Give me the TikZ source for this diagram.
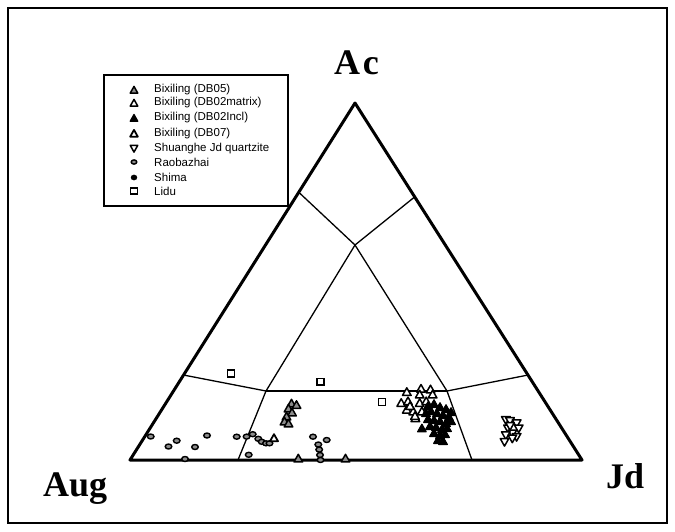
\documentclass[tikz,border=0pt]{standalone}
\usepackage{fontspec}
\setmainfont{Liberation Serif}
\newfontfamily\legfont{Liberation Sans}
\usetikzlibrary{calc}
\begin{document}
\begin{tikzpicture}[x=1pt,y=-1pt,
  frame/.style={line width=2pt},
  side/.style={line width=3pt, line cap=round, line join=round},
  field/.style={line width=1.3pt},
  db05/.style={draw=black, fill=black!45, line width=1.5pt, line join=round},
  db02m/.style={draw=black, fill=white, line width=1.5pt, line join=round},
  db02i/.style={draw=black, fill=black, line width=1.2pt, line join=round},
  db07/.style={draw=black, fill=white, line width=1.8pt, line join=round},
  shg/.style={draw=black, fill=white, line width=1.5pt, line join=round},
  rao/.style={draw=black, fill=black!45, line width=1.4pt},
  shima/.style={draw=black, fill=black},
  lidu/.style={draw=black, fill=white, line width=1.5pt},
  vlabel/.style={font=\fontsize{36}{36}\selectfont\bfseries, inner sep=0pt},
  legtext/.style={font=\legfont\fontsize{11.5}{12}\selectfont, anchor=west, inner sep=0pt}
]
\useasboundingbox (0,0) rectangle (675,531);
\fill[white] (0,0) rectangle (675,531);
\draw[frame] (8,8) rectangle (667,523);

% vertices
\coordinate (Ac) at (355,103);
\coordinate (Aug) at (130,460);
\coordinate (Jd) at (582,460);
% field boundaries
\coordinate (P1) at ($(Aug)!0.75!(Ac)$);
\coordinate (Q1) at ($(Jd)!0.737!(Ac)$);
\coordinate (C) at (355,245);
\coordinate (L) at (266,391);
\coordinate (R) at (447,391);
\coordinate (P2) at ($(Aug)!0.238!(Ac)$);
\coordinate (Q2) at ($(Jd)!0.238!(Ac)$);
\coordinate (B1) at (238,460);
\coordinate (B2) at (472,460);

\draw[field] (P1) -- (C) -- (Q1);
\draw[field] (L) -- (C) -- (R);
\draw[field] (L) -- (R);
\draw[field] (P2) -- (L) -- (B1);
\draw[field] (Q2) -- (R) -- (B2);
\draw[side] (Aug) -- (Jd) -- (Ac) -- cycle;

\node[vlabel, anchor=base] (lAc) at (356.5,74) {A\kern3pt c};
\node[vlabel, anchor=base west] (lAug) at (43,496) {Aug};
\node[vlabel, anchor=base west] (lJd) at (606,488) {Jd};

% Raobazhai
\foreach \x/\y in {150.7/436.5,176.7/440.7,168.5/446.5,195/447,207/435.5,185/459,
  236.7/436.7,246.6/436.6,252.7/434.2,258.3/438.8,261.7/441.8,266/443.3,269.5/443.3,
  248.7/454.8,313/436.7,326.7/440,318.3/444.5,319.2/449.6,320/455,320.5/460}
  \draw[rao] (\x,\y) ellipse [x radius=3.3pt, y radius=2.5pt];

% Lidu
\foreach \x/\y in {231/373.5,320.7/381.7,382/402}
  \draw[lidu] (\x,\y) ++(-3.5,-3.3) rectangle ++(7,6.6);

% DB05
\foreach \x/\y in {291.5/403.5,296.5/405,288.5/408.5,292/412.5,286.5/416.5,284.5/421.5,288.5/423.5,298.3/458.5,345.5/458.5}
  \draw[db05] (\x,\y) ++(-4.3,3.4) -- ++(8.6,0) -- ++(-4.3,-7.6) -- cycle;

% DB07
\draw[db07] (274,438) ++(-4,3.2) -- ++(8,0) -- ++(-4,-7) -- cycle;

% DB02matrix
\foreach \x/\y in {406.8/392,421/388.7,430.5/389.4,432.6/394.5,419.7/394.5,401.2/403,
  408/401.3,419.7/403,426.2/401.3,406.8/409.7,413.3/411.4,415.4/418.2,421.9/411.4,410/406,415/416}
  \draw[db02m] (\x,\y) ++(-4.3,3.4) -- ++(8.6,0) -- ++(-4.3,-7.6) -- cycle;

% DB02Incl
\foreach \x/\y in {428/406,434/404,440/407,446/409,451/412,426/413,431/411,437/413,443/415,
  449/417,428/419,434/420,440/421,446/423,451/421,430/426,436/427,442/429,447/428,
  434/433,440/435,445/434,438/440,443/441,421.9/428.4}
  \draw[db02i] (\x,\y) ++(-4.3,3.4) -- ++(8.6,0) -- ++(-4.3,-7.6) -- cycle;

% Shuanghe
\foreach \x/\y in {505.8/419.9,510/421,516.6/423.3,508/428.4,518.7/428.4,512.3/433.5,
  505.8/435.2,516.6/436.9,504.5/441.9,512.3/438.5,510/426}
  \draw[shg] (\x,\y) ++(-4.3,-3.4) -- ++(8.6,0) -- ++(-4.3,7.6) -- cycle;

% legend
\draw[line width=1.5pt, fill=white] (104,75) rectangle (288,206);
\draw[db05] (134,90) ++(-3.8,3.2) -- ++(7.6,0) -- ++(-3.8,-6.8) -- cycle;
\draw[db02m] (134,103) ++(-3.8,3.2) -- ++(7.6,0) -- ++(-3.8,-6.8) -- cycle;
\draw[db02i] (134,118) ++(-3.8,3.2) -- ++(7.6,0) -- ++(-3.8,-6.8) -- cycle;
\draw[db07] (134,133.5) ++(-3.8,3.2) -- ++(7.6,0) -- ++(-3.8,-6.8) -- cycle;
\draw[shg] (134,148.5) ++(-3.8,-3.2) -- ++(7.6,0) -- ++(-3.8,6.8) -- cycle;
\draw[rao] (134,162) ellipse [x radius=2.8pt, y radius=2.1pt];
\draw[shima] (134,177.5) ellipse [x radius=3pt, y radius=2.6pt];
\draw[lidu] (134,191) ++(-3.5,-3.2) rectangle ++(7,6.4);

\node[legtext] (t1) at (154,90) {Bixiling (DB05)};
\node[legtext] (t2) at (154,103) {Bixiling (DB02matrix)};
\node[legtext] (t3) at (154,118) {Bixiling (DB02Incl)};
\node[legtext] (t4) at (154,133.5) {Bixiling (DB07)};
\node[legtext] (t5) at (154,148.5) {Shuanghe Jd quartzite};
\node[legtext] (t6) at (154,162) {Raobazhai};
\node[legtext] (t7) at (154,177.5) {Shima};
\node[legtext] (t8) at (154,191) {Lidu};
\end{tikzpicture}
\end{document}
